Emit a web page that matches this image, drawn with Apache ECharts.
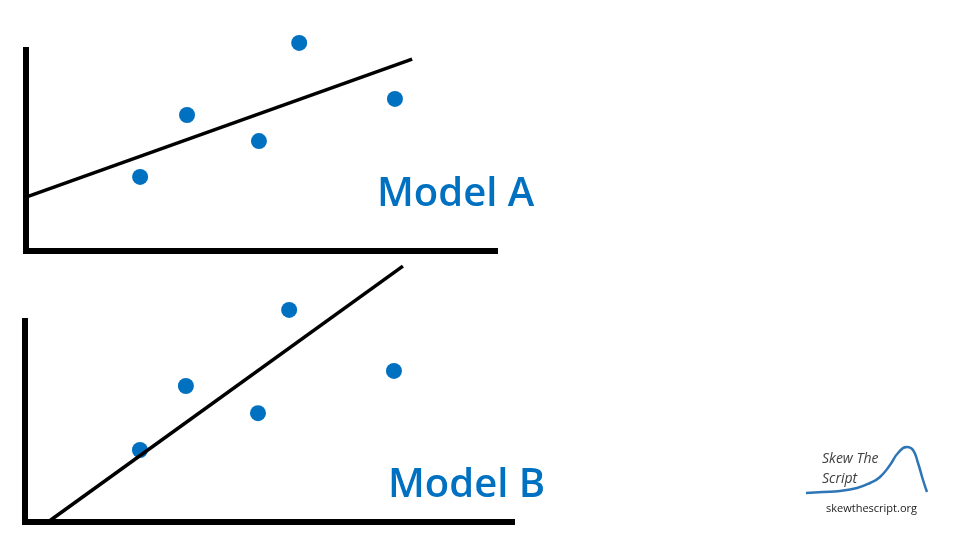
<!DOCTYPE html>
<html>
<head>
<meta charset="utf-8">
<title>Model A / Model B</title>
<script src="https://cdn.jsdelivr.net/npm/echarts@6/dist/echarts.min.js"></script>
<style>
  html, body { margin: 0; padding: 0; background: #fff; }
  #chart { width: 960px; height: 540px; }
</style>
</head>
<body>
<div id="chart"></div>
<script>
const pointsA = [[2.92, 2.21], [4.12, 4.06], [5.96, 3.28], [6.99, 6.21], [9.44, 4.54]]
const pointsB = [[2.95, 2.15], [4.13, 4.06], [5.98, 3.25], [6.78, 6.33], [9.47, 4.51]]
// fitted lines, two end points each
const lineA = [[0, 1.61], [9.88, 5.73]]
const lineB = [[0.59, 0], [9.70, 7.64]]
// logo curve (skewed bell shape)
const logoCurve = [[0, 0], [17, 1], [34, 2], [51, 5], [64, 10], [74, 16], [84, 28], [92, 40], [101, 46], [107, 43], [112, 30], [117, 13], [121, 1]]
const labels = ['Model A', 'Model B']

const blue = '#0070C0'
const chart = echarts.init(document.getElementById('chart'))

// thick black axis, nothing else
function bareAxis(gridIndex, max, show) {
  return {
    type: 'value',
    gridIndex: gridIndex,
    min: 0,
    max: max,
    show: show,
    axisLine: { show: true, onZero: false, lineStyle: { color: '#000', width: 6, cap: 'square' } },
    axisTick: { show: false },
    axisLabel: { show: false },
    splitLine: { show: false }
  }
}

chart.setOption({
  animation: false,
  backgroundColor: '#fff',
  grid: [
    { left: 26, top: 50, width: 469, height: 201 },
    { left: 25, top: 321, width: 487, height: 201 },
    { left: 806, top: 446, width: 121, height: 47 } // logo
  ],
  xAxis: [bareAxis(0, 12, true), bareAxis(1, 12.5, true), bareAxis(2, 121, false)],
  yAxis: [bareAxis(0, 6, true), bareAxis(1, 6, true), bareAxis(2, 47, false)],
  series: [
    {
      type: 'line', xAxisIndex: 0, yAxisIndex: 0, data: lineA, clip: false,
      symbol: 'none', lineStyle: { color: '#000', width: 3.5 }
    },
    {
      type: 'scatter', xAxisIndex: 0, yAxisIndex: 0, data: pointsA, clip: false,
      symbolSize: 16, itemStyle: { color: blue, opacity: 1 }
    },
    {
      type: 'line', xAxisIndex: 1, yAxisIndex: 1, data: lineB, clip: false,
      symbol: 'none', lineStyle: { color: '#000', width: 3.5 }
    },
    {
      type: 'scatter', xAxisIndex: 1, yAxisIndex: 1, data: pointsB, clip: false,
      symbolSize: 16, itemStyle: { color: blue, opacity: 1 }
    },
    {
      type: 'line', xAxisIndex: 2, yAxisIndex: 2, data: logoCurve, clip: false,
      smooth: true, symbol: 'none', lineStyle: { color: '#2E75B6', width: 2.5 }
    }
  ],
  graphic: [
    {
      type: 'text', left: 377, top: 175,
      style: { text: labels[0], fill: blue, font: '600 40px "Open Sans"' }
    },
    {
      type: 'text', left: 388, top: 466,
      style: { text: labels[1], fill: blue, font: '600 40px "Open Sans"' }
    },
    {
      type: 'text', left: 822, top: 449,
      style: { text: 'Skew The\nScript', fill: '#404040', font: 'italic 14px "Open Sans"', lineHeight: 20 }
    },
    {
      type: 'text', left: 826, top: 503,
      style: { text: 'skewthescript.org', fill: '#222', font: '11px "Open Sans"' }
    }
  ]
})
</script>
</body>
</html>
